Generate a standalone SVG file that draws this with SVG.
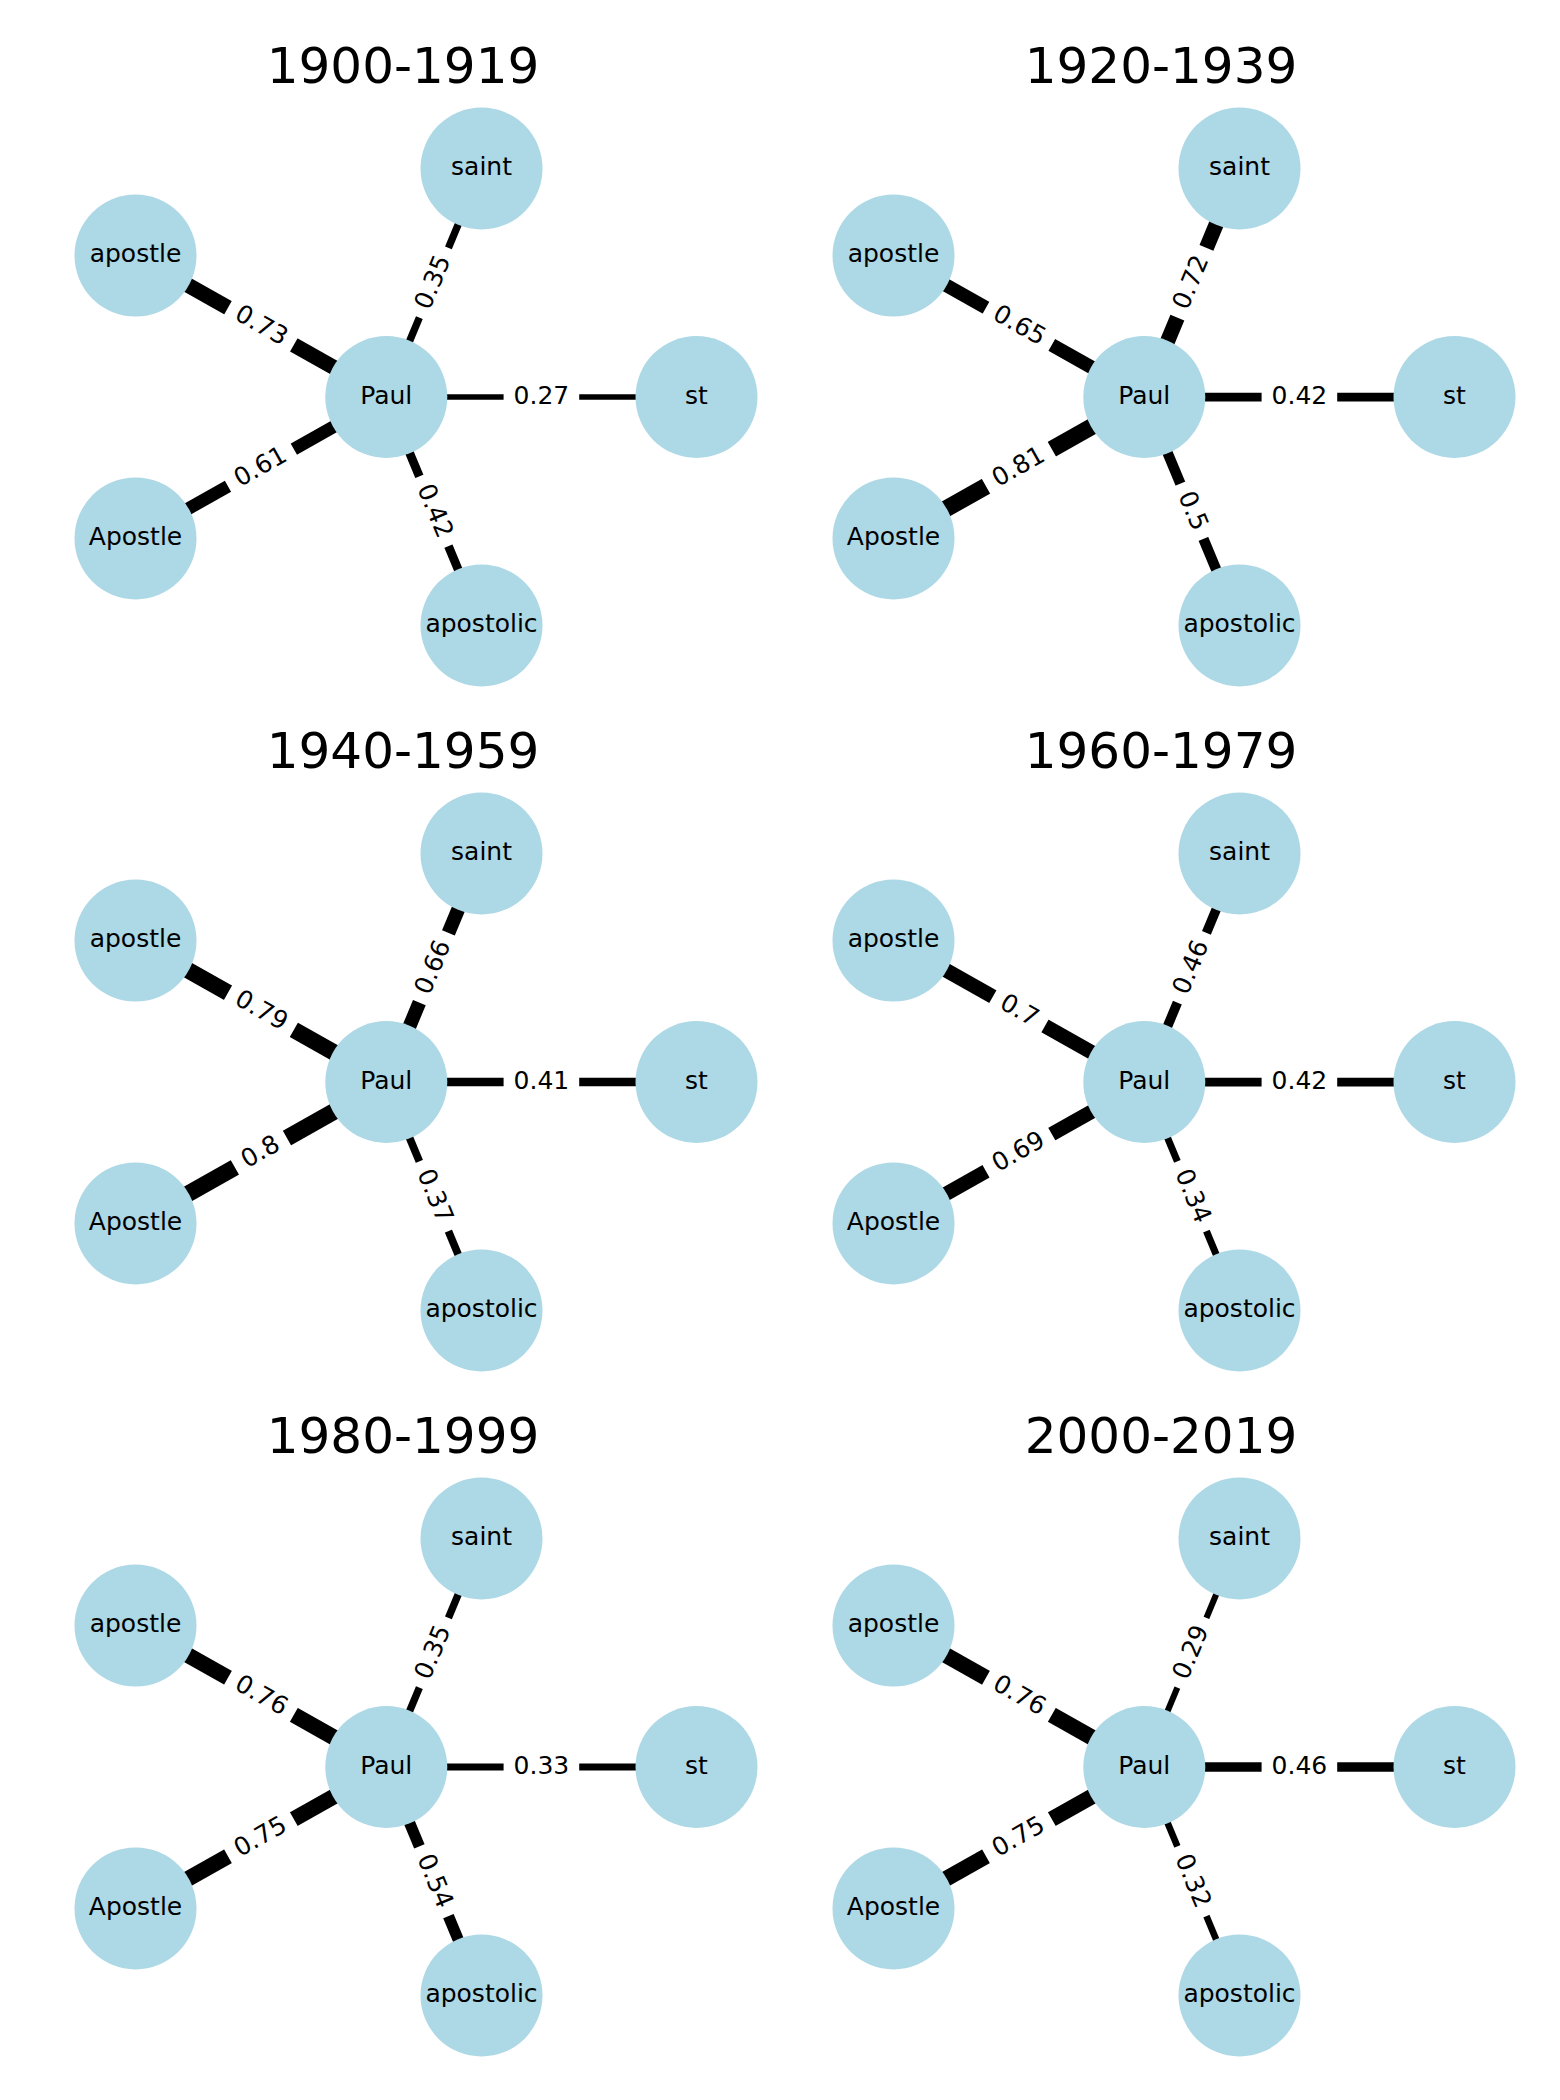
<svg xmlns="http://www.w3.org/2000/svg" width="1560" height="2100" viewBox="0 0 1560 2100">
<style>
text{font-family:"DejaVu Sans","Liberation Sans",sans-serif;fill:#000}
.title{font-size:50px;text-anchor:middle}
.node circle{fill:#ADD8E6}
.node text{font-size:25px;text-anchor:middle}
.edges line{stroke:#000;stroke-linecap:butt}
.elabel text{font-size:25px;text-anchor:middle}
</style>
<defs>
<rect id="b4" x="-36.8" y="-20" width="73.6" height="40" rx="8" fill="#ffffff" stroke="#ffffff" stroke-width="2"/>
<rect id="b3" x="-28.9" y="-20" width="57.8" height="40" rx="8" fill="#ffffff" stroke="#ffffff" stroke-width="2"/>
</defs>
<rect width="1560" height="2100" fill="#fff"/>

<!-- Panel 1 -->
<g id="panel-1900-1919" transform="translate(0,0)">
<text class="title" x="403" y="83.3">1900-1919</text>
<g id="edges-1900-1919" class="edges">
<line x1="386.3" y1="397" x2="481.5" y2="168.5" stroke-width="7.29"/>
<line x1="386.3" y1="397" x2="135.5" y2="255.6" stroke-width="15.21"/>
<line x1="386.3" y1="397" x2="135.5" y2="538.4" stroke-width="12.71"/>
<line x1="386.3" y1="397" x2="481.5" y2="625.5" stroke-width="8.75"/>
<line x1="386.3" y1="397" x2="696.5" y2="397" stroke-width="5.62"/>
</g>
<g id="n1-Paul" class="node"><circle cx="386.3" cy="397" r="61"/><text x="386.3" y="403.8">Paul</text></g>
<g id="n1-saint" class="node"><circle cx="481.5" cy="168.5" r="61"/><text x="481.5" y="175.3">saint</text></g>
<g id="n1-apostle" class="node"><circle cx="135.5" cy="255.6" r="61"/><text x="135.5" y="262.4">apostle</text></g>
<g id="n1-Apostle" class="node"><circle cx="135.5" cy="538.4" r="61"/><text x="135.5" y="545.2">Apostle</text></g>
<g id="n1-apostolic" class="node"><circle cx="481.5" cy="625.5" r="61"/><text x="481.5" y="632.3">apostolic</text></g>
<g id="n1-st" class="node"><circle cx="696.5" cy="397" r="61"/><text x="696.5" y="403.8">st</text></g>
<g id="labels-1900-1919" class="elabel">
<g transform="translate(433.9,282.75) rotate(-67.38)"><use href="#b4"/><text y="6.8">0.35</text></g>
<g transform="translate(260.9,326.3) rotate(29.42)"><use href="#b4"/><text y="6.8">0.73</text></g>
<g transform="translate(260.9,467.7) rotate(-29.42)"><use href="#b4"/><text y="6.8">0.61</text></g>
<g transform="translate(433.9,511.25) rotate(67.38)"><use href="#b4"/><text y="6.8">0.42</text></g>
<g transform="translate(541.4,397)"><use href="#b4"/><text y="6.8">0.27</text></g>
</g>
</g>

<!-- Panel 2 -->
<g id="panel-1920-1939" transform="translate(758,0)">
<text class="title" x="403" y="83.3">1920-1939</text>
<g id="edges-1920-1939" class="edges">
<line x1="386.3" y1="397" x2="481.5" y2="168.5" stroke-width="15.0"/>
<line x1="386.3" y1="397" x2="135.5" y2="255.6" stroke-width="13.54"/>
<line x1="386.3" y1="397" x2="135.5" y2="538.4" stroke-width="16.87"/>
<line x1="386.3" y1="397" x2="481.5" y2="625.5" stroke-width="10.42"/>
<line x1="386.3" y1="397" x2="696.5" y2="397" stroke-width="8.75"/>
</g>
<g id="n2-Paul" class="node"><circle cx="386.3" cy="397" r="61"/><text x="386.3" y="403.8">Paul</text></g>
<g id="n2-saint" class="node"><circle cx="481.5" cy="168.5" r="61"/><text x="481.5" y="175.3">saint</text></g>
<g id="n2-apostle" class="node"><circle cx="135.5" cy="255.6" r="61"/><text x="135.5" y="262.4">apostle</text></g>
<g id="n2-Apostle" class="node"><circle cx="135.5" cy="538.4" r="61"/><text x="135.5" y="545.2">Apostle</text></g>
<g id="n2-apostolic" class="node"><circle cx="481.5" cy="625.5" r="61"/><text x="481.5" y="632.3">apostolic</text></g>
<g id="n2-st" class="node"><circle cx="696.5" cy="397" r="61"/><text x="696.5" y="403.8">st</text></g>
<g id="labels-1920-1939" class="elabel">
<g transform="translate(433.9,282.75) rotate(-67.38)"><use href="#b4"/><text y="6.8">0.72</text></g>
<g transform="translate(260.9,326.3) rotate(29.42)"><use href="#b4"/><text y="6.8">0.65</text></g>
<g transform="translate(260.9,467.7) rotate(-29.42)"><use href="#b4"/><text y="6.8">0.81</text></g>
<g transform="translate(433.9,511.25) rotate(67.38)"><use href="#b3"/><text y="6.8">0.5</text></g>
<g transform="translate(541.4,397)"><use href="#b4"/><text y="6.8">0.42</text></g>
</g>
</g>

<!-- Panel 3 -->
<g id="panel-1940-1959" transform="translate(0,685)">
<text class="title" x="403" y="83.3">1940-1959</text>
<g id="edges-1940-1959" class="edges">
<line x1="386.3" y1="397" x2="481.5" y2="168.5" stroke-width="13.75"/>
<line x1="386.3" y1="397" x2="135.5" y2="255.6" stroke-width="16.46"/>
<line x1="386.3" y1="397" x2="135.5" y2="538.4" stroke-width="16.67"/>
<line x1="386.3" y1="397" x2="481.5" y2="625.5" stroke-width="7.71"/>
<line x1="386.3" y1="397" x2="696.5" y2="397" stroke-width="8.54"/>
</g>
<g id="n3-Paul" class="node"><circle cx="386.3" cy="397" r="61"/><text x="386.3" y="403.8">Paul</text></g>
<g id="n3-saint" class="node"><circle cx="481.5" cy="168.5" r="61"/><text x="481.5" y="175.3">saint</text></g>
<g id="n3-apostle" class="node"><circle cx="135.5" cy="255.6" r="61"/><text x="135.5" y="262.4">apostle</text></g>
<g id="n3-Apostle" class="node"><circle cx="135.5" cy="538.4" r="61"/><text x="135.5" y="545.2">Apostle</text></g>
<g id="n3-apostolic" class="node"><circle cx="481.5" cy="625.5" r="61"/><text x="481.5" y="632.3">apostolic</text></g>
<g id="n3-st" class="node"><circle cx="696.5" cy="397" r="61"/><text x="696.5" y="403.8">st</text></g>
<g id="labels-1940-1959" class="elabel">
<g transform="translate(433.9,282.75) rotate(-67.38)"><use href="#b4"/><text y="6.8">0.66</text></g>
<g transform="translate(260.9,326.3) rotate(29.42)"><use href="#b4"/><text y="6.8">0.79</text></g>
<g transform="translate(260.9,467.7) rotate(-29.42)"><use href="#b3"/><text y="6.8">0.8</text></g>
<g transform="translate(433.9,511.25) rotate(67.38)"><use href="#b4"/><text y="6.8">0.37</text></g>
<g transform="translate(541.4,397)"><use href="#b4"/><text y="6.8">0.41</text></g>
</g>
</g>

<!-- Panel 4 -->
<g id="panel-1960-1979" transform="translate(758,685)">
<text class="title" x="403" y="83.3">1960-1979</text>
<g id="edges-1960-1979" class="edges">
<line x1="386.3" y1="397" x2="481.5" y2="168.5" stroke-width="9.58"/>
<line x1="386.3" y1="397" x2="135.5" y2="255.6" stroke-width="14.58"/>
<line x1="386.3" y1="397" x2="135.5" y2="538.4" stroke-width="14.37"/>
<line x1="386.3" y1="397" x2="481.5" y2="625.5" stroke-width="7.08"/>
<line x1="386.3" y1="397" x2="696.5" y2="397" stroke-width="8.75"/>
</g>
<g id="n4-Paul" class="node"><circle cx="386.3" cy="397" r="61"/><text x="386.3" y="403.8">Paul</text></g>
<g id="n4-saint" class="node"><circle cx="481.5" cy="168.5" r="61"/><text x="481.5" y="175.3">saint</text></g>
<g id="n4-apostle" class="node"><circle cx="135.5" cy="255.6" r="61"/><text x="135.5" y="262.4">apostle</text></g>
<g id="n4-Apostle" class="node"><circle cx="135.5" cy="538.4" r="61"/><text x="135.5" y="545.2">Apostle</text></g>
<g id="n4-apostolic" class="node"><circle cx="481.5" cy="625.5" r="61"/><text x="481.5" y="632.3">apostolic</text></g>
<g id="n4-st" class="node"><circle cx="696.5" cy="397" r="61"/><text x="696.5" y="403.8">st</text></g>
<g id="labels-1960-1979" class="elabel">
<g transform="translate(433.9,282.75) rotate(-67.38)"><use href="#b4"/><text y="6.8">0.46</text></g>
<g transform="translate(260.9,326.3) rotate(29.42)"><use href="#b3"/><text y="6.8">0.7</text></g>
<g transform="translate(260.9,467.7) rotate(-29.42)"><use href="#b4"/><text y="6.8">0.69</text></g>
<g transform="translate(433.9,511.25) rotate(67.38)"><use href="#b4"/><text y="6.8">0.34</text></g>
<g transform="translate(541.4,397)"><use href="#b4"/><text y="6.8">0.42</text></g>
</g>
</g>

<!-- Panel 5 -->
<g id="panel-1980-1999" transform="translate(0,1370)">
<text class="title" x="403" y="83.3">1980-1999</text>
<g id="edges-1980-1999" class="edges">
<line x1="386.3" y1="397" x2="481.5" y2="168.5" stroke-width="7.29"/>
<line x1="386.3" y1="397" x2="135.5" y2="255.6" stroke-width="15.83"/>
<line x1="386.3" y1="397" x2="135.5" y2="538.4" stroke-width="15.62"/>
<line x1="386.3" y1="397" x2="481.5" y2="625.5" stroke-width="11.25"/>
<line x1="386.3" y1="397" x2="696.5" y2="397" stroke-width="6.87"/>
</g>
<g id="n5-Paul" class="node"><circle cx="386.3" cy="397" r="61"/><text x="386.3" y="403.8">Paul</text></g>
<g id="n5-saint" class="node"><circle cx="481.5" cy="168.5" r="61"/><text x="481.5" y="175.3">saint</text></g>
<g id="n5-apostle" class="node"><circle cx="135.5" cy="255.6" r="61"/><text x="135.5" y="262.4">apostle</text></g>
<g id="n5-Apostle" class="node"><circle cx="135.5" cy="538.4" r="61"/><text x="135.5" y="545.2">Apostle</text></g>
<g id="n5-apostolic" class="node"><circle cx="481.5" cy="625.5" r="61"/><text x="481.5" y="632.3">apostolic</text></g>
<g id="n5-st" class="node"><circle cx="696.5" cy="397" r="61"/><text x="696.5" y="403.8">st</text></g>
<g id="labels-1980-1999" class="elabel">
<g transform="translate(433.9,282.75) rotate(-67.38)"><use href="#b4"/><text y="6.8">0.35</text></g>
<g transform="translate(260.9,326.3) rotate(29.42)"><use href="#b4"/><text y="6.8">0.76</text></g>
<g transform="translate(260.9,467.7) rotate(-29.42)"><use href="#b4"/><text y="6.8">0.75</text></g>
<g transform="translate(433.9,511.25) rotate(67.38)"><use href="#b4"/><text y="6.8">0.54</text></g>
<g transform="translate(541.4,397)"><use href="#b4"/><text y="6.8">0.33</text></g>
</g>
</g>

<!-- Panel 6 -->
<g id="panel-2000-2019" transform="translate(758,1370)">
<text class="title" x="403" y="83.3">2000-2019</text>
<g id="edges-2000-2019" class="edges">
<line x1="386.3" y1="397" x2="481.5" y2="168.5" stroke-width="6.04"/>
<line x1="386.3" y1="397" x2="135.5" y2="255.6" stroke-width="15.83"/>
<line x1="386.3" y1="397" x2="135.5" y2="538.4" stroke-width="15.62"/>
<line x1="386.3" y1="397" x2="481.5" y2="625.5" stroke-width="6.67"/>
<line x1="386.3" y1="397" x2="696.5" y2="397" stroke-width="9.58"/>
</g>
<g id="n6-Paul" class="node"><circle cx="386.3" cy="397" r="61"/><text x="386.3" y="403.8">Paul</text></g>
<g id="n6-saint" class="node"><circle cx="481.5" cy="168.5" r="61"/><text x="481.5" y="175.3">saint</text></g>
<g id="n6-apostle" class="node"><circle cx="135.5" cy="255.6" r="61"/><text x="135.5" y="262.4">apostle</text></g>
<g id="n6-Apostle" class="node"><circle cx="135.5" cy="538.4" r="61"/><text x="135.5" y="545.2">Apostle</text></g>
<g id="n6-apostolic" class="node"><circle cx="481.5" cy="625.5" r="61"/><text x="481.5" y="632.3">apostolic</text></g>
<g id="n6-st" class="node"><circle cx="696.5" cy="397" r="61"/><text x="696.5" y="403.8">st</text></g>
<g id="labels-2000-2019" class="elabel">
<g transform="translate(433.9,282.75) rotate(-67.38)"><use href="#b4"/><text y="6.8">0.29</text></g>
<g transform="translate(260.9,326.3) rotate(29.42)"><use href="#b4"/><text y="6.8">0.76</text></g>
<g transform="translate(260.9,467.7) rotate(-29.42)"><use href="#b4"/><text y="6.8">0.75</text></g>
<g transform="translate(433.9,511.25) rotate(67.38)"><use href="#b4"/><text y="6.8">0.32</text></g>
<g transform="translate(541.4,397)"><use href="#b4"/><text y="6.8">0.46</text></g>
</g>
</g>
</svg>
